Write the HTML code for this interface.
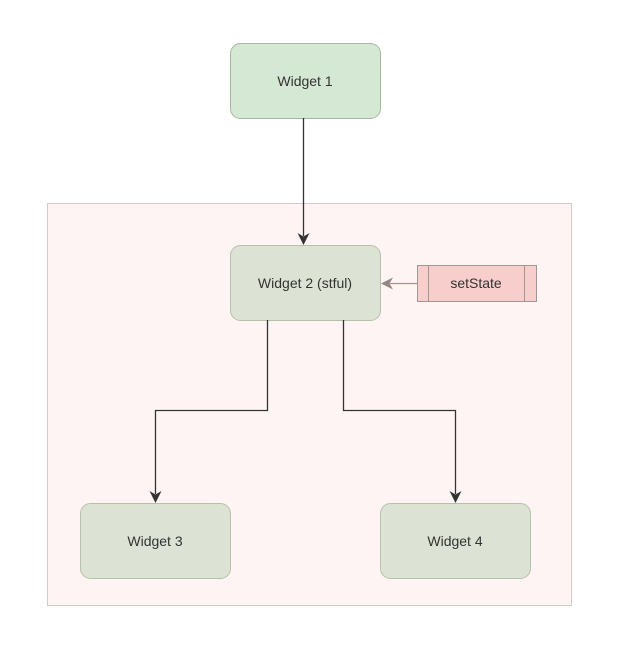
<!DOCTYPE html>
<html><head><style>
body{margin:0;background:#fff;}
</style></head><body>
<svg width="618" height="640" xmlns="http://www.w3.org/2000/svg" font-family="Liberation Sans, sans-serif" font-size="14">
<rect width="618" height="640" fill="#fff"/>
<rect x="47.5" y="203.5" width="524" height="402" fill="#fff4f4" stroke="#d8c8c8"/>
<rect x="230.5" y="43.5" width="150" height="75" rx="10" fill="#d5e8d4" stroke="#a8b8a0"/>
<text x="305" y="86" text-anchor="middle" fill="#333">Widget 1</text>
<rect x="230.5" y="245.5" width="150" height="75" rx="10" fill="#dce3d4" stroke="#b8c0ac"/>
<text x="305" y="288" text-anchor="middle" fill="#333">Widget 2 (stful)</text>
<rect x="80.5" y="503.5" width="150" height="75" rx="10" fill="#dce3d4" stroke="#b8c0ac"/>
<text x="155" y="546" text-anchor="middle" fill="#333">Widget 3</text>
<rect x="380.5" y="503.5" width="150" height="75" rx="10" fill="#dce3d4" stroke="#b8c0ac"/>
<text x="455" y="546" text-anchor="middle" fill="#333">Widget 4</text>
<rect x="417.5" y="265.5" width="119" height="36" fill="#f8cecc" stroke="#a09890"/>
<line x1="428.5" y1="265.5" x2="428.5" y2="301.5" stroke="#a09890"/>
<line x1="524.5" y1="265.5" x2="524.5" y2="301.5" stroke="#a09890"/>
<text x="476" y="288" text-anchor="middle" fill="#333">setState</text>
<g stroke="#333" fill="none" stroke-width="1.3">
<path d="M303.5 118V236"/>
<path d="M267.5 320V410.5H155.5V494"/>
<path d="M343.5 320V410.5H455.5V494"/>
</g>
<g fill="#333">
<path d="M303.5 245l-6-12 6 3.5 6-3.5z"/>
<path d="M155.5 503l-6-12 6 3.5 6-3.5z"/>
<path d="M455.5 503l-6-12 6 3.5 6-3.5z"/>
</g>
<path d="M417 283.5H390" stroke="#d08080" stroke-width="1.3"/>
<path d="M381 283.5l12-6-3.5 6 3.5 6z" fill="#908880"/>
</svg>
</body></html>
